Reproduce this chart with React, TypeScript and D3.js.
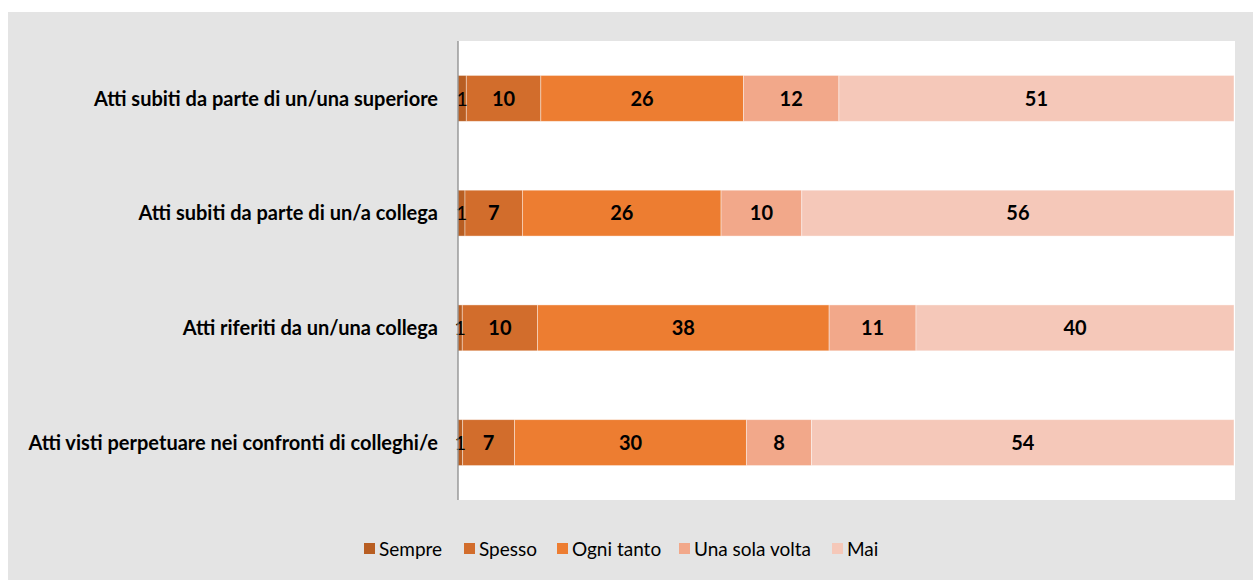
import React from "react";
import * as d3 from "d3";

const categories = [
  "Atti subiti da parte di un/una superiore",
  "Atti subiti da parte di un/a collega",
  "Atti riferiti da un/una collega",
  "Atti visti perpetuare nei confronti di colleghi/e",
];
const seriesNames = ["Sempre", "Spesso", "Ogni tanto", "Una sola volta", "Mai"];
// segment shares
const sempre = [1.07, 0.9, 0.55, 0.6];
const spesso = [9.6, 7.4, 9.7, 6.7];
const ogniTanto = [26.1, 25.6, 37.6, 29.9];
const unaSolaVolta = [12.3, 10.4, 11.2, 8.4];
const mai = [50.9, 55.7, 41.0, 54.5];
// data labels as printed
const sempreLabels = ["1", "1", "1", "1"];
const spessoLabels = ["10", "7", "10", "7"];
const ogniTantoLabels = ["26", "26", "38", "30"];
const unaSolaVoltaLabels = ["12", "10", "11", "8"];
const maiLabels = ["51", "56", "40", "54"];
const colors = ["#b85e22", "#d26d2c", "#ed7d31", "#f2a88a", "#f5c8b9"];

const W = 1253;
const H = 580;
const FONT = "Lato, 'Open Sans', sans-serif";

export default function App() {
  const series = [sempre, spesso, ogniTanto, unaSolaVolta, mai];
  const labels = [sempreLabels, spessoLabels, ogniTantoLabels, unaSolaVoltaLabels, maiLabels];
  const rows = categories.map((c, i) => {
    const o: any = { cat: c };
    seriesNames.forEach((s, j) => (o[s] = series[j][i]));
    return o;
  });
  const stacked = d3.stack().keys(seriesNames).offset(d3.stackOffsetExpand)(rows);
  const x = d3.scaleLinear().domain([0, 1]).range([458, 1234]);
  const y = d3.scaleBand().domain(categories).range([41, 500]).paddingInner(0.6).paddingOuter(0.3);

  const legendX = [364, 464, 557, 679, 832];

  return (
    <svg width={W} height={H} style={{ position: "absolute", left: 0, top: 0, display: "block" }}>
      <rect x={8} y={12} width={W - 8} height={H - 12} fill="#e4e4e4" />
      <rect x={458} y={41} width={777} height={459} fill="#ffffff" />
      {stacked.map((layer, j) => (
        <g key={layer.key}>
          {layer.map((d, i) => {
            const x0 = x(d[0]);
            const x1 = x(d[1]);
            const cat = categories[i];
            return (
              <rect
                key={i}
                x={x0}
                y={y(cat)!}
                width={x1 - x0}
                height={y.bandwidth()}
                fill={colors[j]}
                stroke="#ffffff"
                strokeOpacity={0.5}
                strokeWidth={0.8}
              />
            );
          })}
        </g>
      ))}
      {stacked.map((layer, j) => (
        <g key={"l" + layer.key}>
          {layer.map((d, i) => {
            const cat = categories[i];
            return (
              <text
                key={i}
                x={(x(d[0]) + x(d[1])) / 2}
                y={y(cat)! + y.bandwidth() / 2}
                dy="0.36em"
                textAnchor="middle"
                fontFamily={FONT}
                fontWeight={j === 0 ? 400 : 700}
                fontSize={20}
                fill="#000"
              >
                {labels[j][i]}
              </text>
            );
          })}
        </g>
      ))}
      <line x1={458} x2={458} y1={41} y2={500} stroke="#8c8c8c" strokeWidth={1.3} />
      {categories.map((c) => (
        <text
          key={c}
          x={438}
          y={y(c)! + y.bandwidth() / 2}
          dy="0.36em"
          textAnchor="end"
          fontFamily={FONT}
          fontWeight={700}
          fontSize={20}
          fill="#000"
        >
          {c}
        </text>
      ))}
      {seriesNames.map((s, j) => (
        <g key={s}>
          <rect x={legendX[j]} y={543} width={11} height={11} fill={colors[j]} />
          <text
            x={legendX[j] + 15}
            y={549}
            dy="0.36em"
            fontFamily={FONT}
            fontSize={19}
            fill="#000"
          >
            {s}
          </text>
        </g>
      ))}
    </svg>
  );
}
